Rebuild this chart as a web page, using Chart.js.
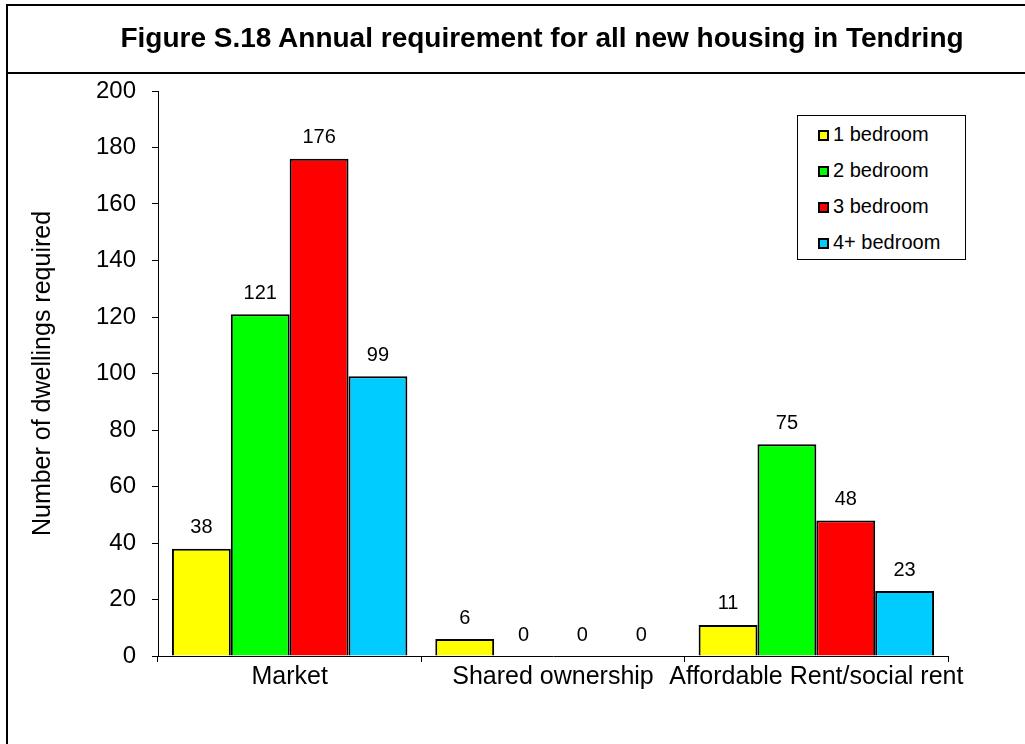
<!DOCTYPE html>
<html>
<head>
<meta charset="utf-8">
<title>Figure S.18</title>
<script src="https://cdn.jsdelivr.net/npm/chart.js@4.4.1/dist/chart.umd.min.js"></script>
<style>
  body { margin: 0; background: #fff; }
  #wrap { position: relative; width: 1025px; height: 744px; overflow: hidden; }
  #chartTitle {
    position: absolute; left: 7px; top: 5px; width: 1070px; height: 68px; line-height: 66px;
    text-align: center; font-family: Arial, "Liberation Sans", sans-serif; font-weight: bold;
    font-size: 28px; color: #000; white-space: nowrap;
  }
  #legendBox {
    position: absolute; left: 797px; top: 115px; width: 169px; height: 145px;
    border: 1px solid #000; background: #fff; box-sizing: border-box;
    font-family: Arial, "Liberation Sans", sans-serif; font-size: 20px; color: #000;
    padding-top: 5px;
  }
  #legendBox .item { height: 36px; line-height: 26px; padding-left: 20px; display: flex; align-items: flex-start; }
  #legendBox .swatch { width: 7px; height: 7px; border: 2px solid #000; margin: 9px 4px 0 0; flex: none; }
</style>
</head>
<body>
<div id="wrap">
  <canvas id="housingChart" width="1025" height="744"></canvas>
  <div id="chartTitle">Figure S.18 Annual requirement for all new housing in Tendring</div>
  <div id="legendBox"></div>
</div>
<script>
// chart data
const categories = ["Market", "Shared ownership", "Affordable Rent/social rent"];
const seriesNames = ["1 bedroom", "2 bedroom", "3 bedroom", "4+ bedroom"];
const oneBed = [38, 6, 11];
const twoBed = [121, 0, 75];
const threeBed = [176, 0, 48];
const fourBed = [99, 0, 23];
const seriesColors = ["#ffff00", "#00ff00", "#ff0000", "#00ccff"];

const FONT = "Arial, 'Liberation Sans', sans-serif";

// outer frame + line under title
const framePlugin = {
  id: "frame",
  afterDraw(chart) {
    const ctx = chart.ctx;
    ctx.save();
    ctx.strokeStyle = "#000";
    ctx.lineWidth = 2;
    ctx.beginPath();
    ctx.moveTo(1030, 5);
    ctx.lineTo(7, 5);
    ctx.lineTo(7, 750);
    ctx.moveTo(7, 73);
    ctx.lineTo(1030, 73);
    ctx.stroke();
    ctx.restore();
  }
};

// value labels above bars
const valueLabels = {
  id: "valueLabels",
  afterDatasetsDraw(chart) {
    const ctx = chart.ctx;
    ctx.save();
    ctx.font = "20px " + FONT;
    ctx.fillStyle = "#000";
    ctx.textAlign = "center";
    ctx.textBaseline = "bottom";
    chart.data.datasets.forEach((ds, i) => {
      const meta = chart.getDatasetMeta(i);
      meta.data.forEach((bar, j) => {
        ctx.fillText(ds.data[j], bar.x, bar.y - 11);
      });
    });
    ctx.restore();
  }
};

document.addEventListener("DOMContentLoaded", function () {
  const values = [oneBed, twoBed, threeBed, fourBed];
  const ctx = document.getElementById("housingChart").getContext("2d");
  const chart = new Chart(ctx, {
    type: "bar",
    data: {
      labels: categories,
      datasets: seriesNames.map((name, i) => ({
        label: name,
        data: values[i],
        backgroundColor: seriesColors[i],
        borderColor: "#000",
        borderWidth: 2,
        categoryPercentage: 0.894,
        barPercentage: 1.0,
      })),
    },
    options: {
      responsive: false,
      animation: false,
      layout: { padding: { left: 0, right: 77, top: 91, bottom: 0 } },
      plugins: {
        legend: { display: false },
        tooltip: { enabled: false },
        title: { display: false },
      },
      scales: {
        x: {
          afterFit(scale) { scale.height = 88; },
          grid: { display: true, drawOnChartArea: false, drawTicks: true, tickLength: 6, color: "#000", offset: true },
          border: { display: true, color: "#000", width: 1 },
          ticks: { color: "#000", font: { family: FONT, size: 25 }, padding: 0, maxRotation: 0, autoSkip: false },
        },
        y: {
          min: 0,
          max: 200,
          afterFit(scale) { scale.width = 158; },
          grid: { display: true, drawOnChartArea: false, drawTicks: true, tickLength: 6, color: "#000" },
          border: { display: true, color: "#000", width: 1 },
          ticks: { stepSize: 20, color: "#000", font: { family: FONT, size: 24 }, padding: 16 },
          title: {
            display: true,
            text: "Number of dwellings required",
            color: "#000",
            font: { family: FONT, size: 25 },
            padding: { top: 28, bottom: 0 },
          },
        },
      },
    },
    plugins: [framePlugin, valueLabels],
  });

  // legend box built from the datasets
  const box = document.getElementById("legendBox");
  chart.data.datasets.forEach((ds) => {
    const item = document.createElement("div");
    item.className = "item";
    const sw = document.createElement("span");
    sw.className = "swatch";
    sw.style.background = ds.backgroundColor;
    const txt = document.createElement("span");
    txt.textContent = ds.label;
    item.appendChild(sw);
    item.appendChild(txt);
    box.appendChild(item);
  });
});
</script>
</body>
</html>
